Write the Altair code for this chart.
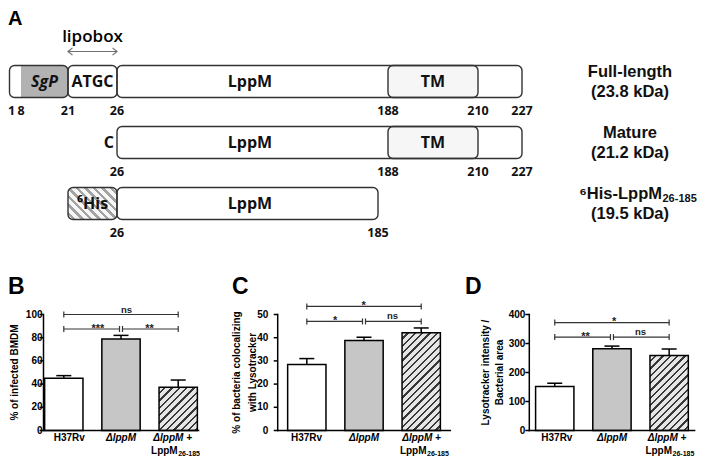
import math
import altair as alt
import pandas as pd

# ================= Panel A : LppM constructs =================
construct_rows = ["Full-length", "Mature", "His"]
name_line1 = ["Full-length", "Mature", "⁶His-LppM"]
name_sub = ["", "", "26-185"]
name_line2 = ["(23.8 kDa)", "(21.2 kDa)", "(19.5 kDa)"]

seg_row = ["Full-length", "Full-length", "Full-length", "Full-length", "Mature", "Mature", "His", "His"]
seg_start = [1, 21, 26, 188, 26, 188, 21, 26]
seg_end = [21, 26, 227, 210, 227, 210, 26, 185]
seg_kind = ["plain", "plain", "plain", "tm", "plain", "tm", "his", "plain"]

sgp_start = [8]
sgp_end = [21]

box_text = ["SgP", "ATGC", "LppM", "TM", "LppM", "TM", "⁶His", "LppM"]
box_text_from = [8, 21, 26, 188, 26, 188, 21, 26]
box_text_to = [21, 26, 188, 210, 188, 210, 26, 188]

pos_row = ["Full-length"] * 7 + ["Mature"] * 4 + ["His"] * 2
pos_residue = [1, 8, 21, 26, 188, 210, 227, 26, 188, 210, 227, 26, 185]

lipobox = [21, 26]
mature_start = 26
protein_end = 227

# ================= Panels B-D =================
groups = ["H37Rv", "ΔlppM", "ΔlppM + LppM26-185"]
group_line1 = ["H37Rv", "ΔlppM", "ΔlppM +"]
group_line2 = ["", "", "LppM"]
group_sub = ["", "", "26-185"]

b_mean = [45.0, 78.8, 37.2]
b_sem = [2.3, 3.2, 6.3]
c_mean = [28.5, 38.8, 42.1]
c_sem = [2.5, 1.4, 2.1]
d_mean = [152, 282, 259]
d_sem = [11, 9, 22]

sig_from = ["H37Rv", "H37Rv", "ΔlppM"]
sig_to = ["ΔlppM + LppM26-185", "ΔlppM", "ΔlppM + LppM26-185"]
b_sig = ["ns", "***", "**"]
c_sig = ["*", "*", "ns"]
d_sig = ["*", "**", "ns"]
b_sig_y = [100, 87.5, 87.5]
c_sig_y = [53.5, 47, 47]
d_sig_y = [372, 322, 322]

b_ticks = [0, 20, 40, 60, 80, 100]
c_ticks = [0, 10, 20, 30, 40, 50]
d_ticks = [0, 100, 200, 300, 400]
b_title = "% of infected BMDM"
c_title = "% of bacteria colocalizing\nwith Lysotracker"
d_title = "Lysotracker intensity /\nBacterial area"

# ================= layout / style =================
W, H = 693, 450
ARIAL = "Liberation Sans"
CAL = "Open Sans"
EDGE = "#333333"


def hatch(w, h, period, frac, bg, fg, direction):
    n = (w + h) / (period * math.sqrt(2.0))
    k = (w + h) / (w * w + h * h)
    if direction == "/":
        x1, y1, x2, y2 = 0.0, 0.0, k * w, k * h
    else:
        x1, y1, x2, y2 = 0.0, 1.0, k * w, 1.0 - k * h
    stops = []
    i = 0
    while i / n < 1:
        a = i / n
        b = min((i + 1 - frac) / n, 1.0)
        c = min((i + 1) / n, 1.0)
        stops += [(a, bg), (b, bg), (b, fg), (c, fg)]
        i += 1
    return alt.LinearGradient(
        gradient="linear",
        stops=[alt.GradientStop(color=col, offset=round(o, 4)) for o, col in stops],
        x1=round(x1, 4), y1=round(y1, 4), x2=round(x2, 4), y2=round(y2, 4),
    )


def letter(ch, x, y, size):
    return alt.Chart(pd.DataFrame({"t": [ch]})).mark_text(
        font=ARIAL, fontWeight="bold", fontSize=size, align="left", baseline="middle", color="black"
    ).encode(text="t:N", x=alt.value(x), y=alt.value(y))


# ---------------- Panel A ----------------
A_RES = [1, 8, 21, 26, 185, 188, 210, 227]
A_PX = [1.5, 13, 60, 109, 370, 380, 470, 514]
xA = alt.Scale(domain=A_RES, range=A_PX, zero=False, nice=False)
yA = alt.Scale(domain=construct_rows, range=[43, 226], paddingInner=0.475, paddingOuter=0.2375)
YA = alt.Y("row:N", scale=yA, axis=None)

seg_df = pd.DataFrame({"row": seg_row, "start": seg_start, "end": seg_end, "kind": seg_kind})
seg = alt.Chart(seg_df).encode(x=alt.X("start:Q", scale=xA, axis=None), x2=alt.X2("end"), y=YA)

his_fill = hatch(49, 32, 6.0, 0.42, "#f7f7f7", "#a3a3a3", "\\")

layers = [
    seg.transform_filter("datum.kind == 'plain'").mark_bar(fill="white", cornerRadius=5),
    seg.transform_filter("datum.kind == 'tm'").mark_bar(fill="#f6f6f6", cornerRadius=5),
    seg.transform_filter("datum.kind == 'his'").mark_bar(fill=his_fill, cornerRadius=5),
    alt.Chart(pd.DataFrame({"row": ["Full-length"], "start": sgp_start, "end": sgp_end}))
    .mark_bar(fill="#b2b2b2", cornerRadiusTopRight=5, cornerRadiusBottomRight=5)
    .encode(x=alt.X("start:Q", scale=xA, axis=None), x2=alt.X2("end"), y=YA),
    seg.mark_bar(fillOpacity=0, stroke=EDGE, strokeWidth=1.4, cornerRadius=5),
]

bt_df = pd.DataFrame({"row": seg_row, "text": box_text, "a": box_text_from, "b": box_text_to})
bt = alt.Chart(bt_df).transform_calculate(mid="(datum.a + datum.b) / 2").encode(
    x=alt.X("mid:Q", scale=xA, axis=None), y=YA, text="text:N"
)
layers += [
    bt.transform_filter("datum.text != 'SgP'").mark_text(
        font=CAL, fontWeight="bold", fontSize=16, baseline="middle", color="#111111"
    ),
    bt.transform_filter("datum.text == 'SgP'").mark_text(
        font=CAL, fontWeight="bold", fontStyle="italic", fontSize=16, baseline="middle", color="#111111"
    ),
]

pos_df = pd.DataFrame({"row": pos_row, "res": pos_residue})
pos = alt.Chart(pos_df).encode(x=alt.X("res:Q", scale=xA, axis=None), y=YA, text="res:N")
layers += [
    pos.transform_filter("datum.res != 1").mark_text(
        font=CAL, fontWeight="bold", fontSize=12.5, baseline="middle", dy=29, color="#111111"),
    pos.transform_filter("datum.res == 1").mark_text(
        font=CAL, fontWeight="bold", fontSize=12.5, baseline="middle", align="left", dx=-1.5, dy=29,
        color="#111111"),
]

layers.append(
    alt.Chart(pd.DataFrame({"row": ["Mature"], "res": [mature_start], "t": ["C"]}))
    .mark_text(font=CAL, fontWeight="bold", fontSize=16, align="right", baseline="middle", dx=-3, color="#111111")
    .encode(x=alt.X("res:Q", scale=xA, axis=None), y=YA, text="t:N")
)

lip_df = pd.DataFrame({"row": ["Full-length"], "a": [lipobox[0]], "b": [lipobox[1]], "t": ["lipobox"]})
lip = alt.Chart(lip_df)
layers += [
    lip.mark_rule(color="#707070", strokeWidth=1.2, yOffset=-30).encode(
        x=alt.X("a:Q", scale=xA, axis=None), x2=alt.X2("b"), y=YA
    ),
    lip.mark_point(shape="M1,-0.8L0,0L1,0.8", size=81, filled=False, stroke="#707070", strokeWidth=1.2,
                   opacity=1, yOffset=-30).encode(x=alt.X("a:Q", scale=xA, axis=None), y=YA),
    lip.mark_point(shape="M-1,-0.8L0,0L-1,0.8", size=81, filled=False, stroke="#707070", strokeWidth=1.2,
                   opacity=1, yOffset=-30).encode(x=alt.X("b:Q", scale=xA, axis=None), y=YA),
    lip.transform_calculate(mid="(datum.a + datum.b) / 2").mark_text(
        font=CAL, fontSize=17, fontWeight=600, baseline="middle", dy=-45, color="#000000"
    ).encode(x=alt.X("mid:Q", scale=xA, axis=None), y=YA, text="t:N"),
]

# construct names on the right
nm = alt.Chart(pd.DataFrame({"row": construct_rows, "l1": name_line1, "sub": name_sub, "l2": name_line2})).encode(
    x=alt.X(datum=protein_end, type="quantitative", scale=xA, axis=None), y=YA
)
NAME = dict(font=ARIAL, fontWeight="bold", fontSize=16.5, baseline="middle", color="#111111")
layers += [
    nm.transform_filter("datum.sub == ''").mark_text(dx=108, dy=-10, **NAME).encode(text="l1:N"),
    nm.transform_filter("datum.sub != ''").mark_text(dx=140, dy=-10, align="right", **NAME).encode(text="l1:N"),
    nm.transform_filter("datum.sub != ''").mark_text(
        font=ARIAL, fontWeight="bold", fontSize=11, baseline="middle", align="left", dx=140.5, dy=-5,
        color="#111111").encode(text="sub:N"),
    nm.mark_text(dx=108, dy=10, **NAME).encode(text="l2:N"),
]
layers.append(letter("A", 0, 11, 20))

# ---------------- Panels B, C, D ----------------
STEP = 57.2
P_IN = 0.33
Y0, Y1 = 422.5, 306.5


def bar_panel(means, sems, sig_lab, sig_y, ymax, yticks, ytitle, axis_x, p_outer,
              label_pad, title_dx, title_lh, let, let_x):
    L = STEP * (3 - P_IN + 2 * p_outer)
    bw = STEP * (1 - P_IN)
    edge = p_outer * STEP + bw / 2  # band centre -> axis line
    xs = alt.Scale(domain=groups, range=[axis_x, axis_x + L], paddingInner=P_IN, paddingOuter=p_outer)
    ys = alt.Scale(domain=[0, ymax], range=[Y0, Y1], nice=False, zero=True)
    ppu = (Y0 - Y1) / ymax
    df = pd.DataFrame({"group": groups, "idx": [0, 1, 2], "mean": means, "sem": sems,
                       "line1": group_line1, "line2": group_line2, "sub": group_sub})
    base = alt.Chart(df).transform_calculate(upper="datum.mean + datum.sem", base="0")
    Xn = alt.X("group:N", scale=xs, axis=None)
    Yn = alt.Y("mean:Q", scale=ys, axis=None)
    X0 = alt.X("g0:N", scale=xs, axis=None)
    out = []

    fills = ["white", "#c6c6c6", hatch(bw, means[2] * ppu, 5.2, 0.32, "#e6e6e6", "#383838", "/")]
    for i in range(3):
        out.append(base.transform_filter(f"datum.idx == {i}")
                   .mark_bar(fill=fills[i], stroke="black", strokeWidth=1.5).encode(x=Xn, y=Yn))
    out.append(base.mark_rule(color="black", strokeWidth=1.5)
               .encode(x=Xn, y=Yn, y2=alt.Y2("upper")))
    out.append(base.mark_tick(orient="horizontal", size=15, thickness=1.5, color="black", opacity=1)
               .encode(x=Xn, y=alt.Y("upper:Q", scale=ys, axis=None)))

    # axes drawn through the same scales
    ax_df = pd.DataFrame({"g0": [groups[0]], "g2": [groups[2]], "lo": [0], "hi": [ymax],
                          "mid": [ymax / 2], "title": [ytitle]})
    ax = alt.Chart(ax_df)
    out.append(ax.mark_rule(color="black", strokeWidth=1.5, strokeCap="square", xOffset=-edge)
               .encode(x=X0, y=alt.Y("lo:Q", scale=ys, axis=None), y2=alt.Y2("hi")))
    out.append(ax.mark_rule(color="black", strokeWidth=1.5, strokeCap="square", xOffset=-edge, x2Offset=edge)
               .encode(x=X0, x2=alt.X2("g2"), y=alt.Y("lo:Q", scale=ys, axis=None)))
    out.append(ax.mark_text(font=ARIAL, fontWeight="bold", fontSize=10, angle=270, lineBreak="\n",
                            lineHeight=title_lh, baseline="middle", align="center",
                            xOffset=-edge + title_dx, color="black")
               .encode(x=X0, y=alt.Y("mid:Q", scale=ys, axis=None), text="title:N"))
    tk = alt.Chart(pd.DataFrame({"g0": [groups[0]] * len(yticks), "v": yticks}))
    out.append(tk.mark_tick(orient="horizontal", size=4, thickness=1.5, color="black", opacity=1,
                            xOffset=-edge - 2)
               .encode(x=X0, y=alt.Y("v:Q", scale=ys, axis=None)))
    out.append(tk.mark_text(font=ARIAL, fontWeight="bold", fontSize=10, align="right", baseline="middle",
                            xOffset=-edge - 4 - label_pad, color="black")
               .encode(x=X0, y=alt.Y("v:Q", scale=ys, axis=None), text="v:Q"))

    # significance brackets
    sig_df = pd.DataFrame({"k": [0, 1, 2], "from": sig_from, "to": sig_to, "y": sig_y, "label": sig_lab})
    Ys = alt.Y("y:Q", scale=ys, axis=None)
    for j in range(3):
        fi = groups.index(sig_from[j])
        ti = groups.index(sig_to[j])
        of = 1.5 if fi == 1 else 0.0
        ot = -1.5 if ti == 1 else 0.0
        sb = alt.Chart(sig_df).transform_filter(f"datum.k == {j}")
        Xf = alt.X("from:N", scale=xs, axis=None)
        Xt = alt.X("to:N", scale=xs, axis=None)
        out.append(sb.mark_rule(color=EDGE, strokeWidth=1.2, xOffset=of, x2Offset=ot)
                   .encode(x=Xf, x2=alt.X2("to"), y=Ys))
        out.append(sb.mark_tick(orient="vertical", size=6, thickness=1.2, color=EDGE, opacity=1, xOffset=of)
                   .encode(x=Xf, y=Ys))
        out.append(sb.mark_tick(orient="vertical", size=6, thickness=1.2, color=EDGE, opacity=1, xOffset=ot)
                   .encode(x=Xt, y=Ys))
        star = "*" in sig_lab[j]
        out.append(sb.mark_text(font=ARIAL, fontWeight="bold", fontSize=11 if star else 9.5,
                                baseline="alphabetic", dy=2.5 if star else -2,
                                xOffset=(ti - fi) * STEP / 2, color="#222222")
                   .encode(x=Xf, y=Ys, text="label:N"))

    # category labels
    Yb = alt.Y("base:Q", scale=ys, axis=None)
    LBL = dict(font=ARIAL, fontWeight="bold", fontSize=10, baseline="middle", color="black")
    out.append(base.transform_filter("datum.idx == 0").mark_text(dy=7.5, **LBL)
               .encode(x=Xn, y=Yb, text="line1:N"))
    out.append(base.transform_filter("datum.idx > 0").mark_text(dy=7.5, fontStyle="italic", **LBL)
               .encode(x=Xn, y=Yb, text="line1:N"))
    out.append(base.transform_filter("datum.idx == 2").mark_text(dy=20, align="right", xOffset=5, **LBL)
               .encode(x=Xn, y=Yb, text="line2:N"))
    out.append(base.transform_filter("datum.idx == 2").mark_text(
        font=ARIAL, fontWeight="bold", fontSize=7, baseline="middle", align="left", xOffset=5.5, dy=23,
        color="black").encode(x=Xn, y=Yb, text="sub:N"))
    out.append(letter(let, let_x, 279, 23))
    return out


layers += bar_panel(b_mean, b_sem, b_sig, b_sig_y, 100, b_ticks, b_title, 35.5, 0.02, 2.5, -33.8, 15, "B", 0)
layers += bar_panel(c_mean, c_sem, c_sig, c_sig_y, 50, c_ticks, c_title, 269.7, 0.174, 5, -40.7, 16, "C", 224)
layers += bar_panel(d_mean, d_sem, d_sig, d_sig_y, 400, d_ticks, d_title, 521.3, 0.11, 2, -45, 14, "D", 457)

chart = (
    alt.layer(*layers)
    .resolve_scale(x="independent", y="independent")
    .properties(width=W, height=H, padding=0, autosize=alt.AutoSizeParams(type="none"))
    .configure_view(stroke=None)
)

chart.save("out.html", embed_options={"renderer": "svg", "actions": False})
